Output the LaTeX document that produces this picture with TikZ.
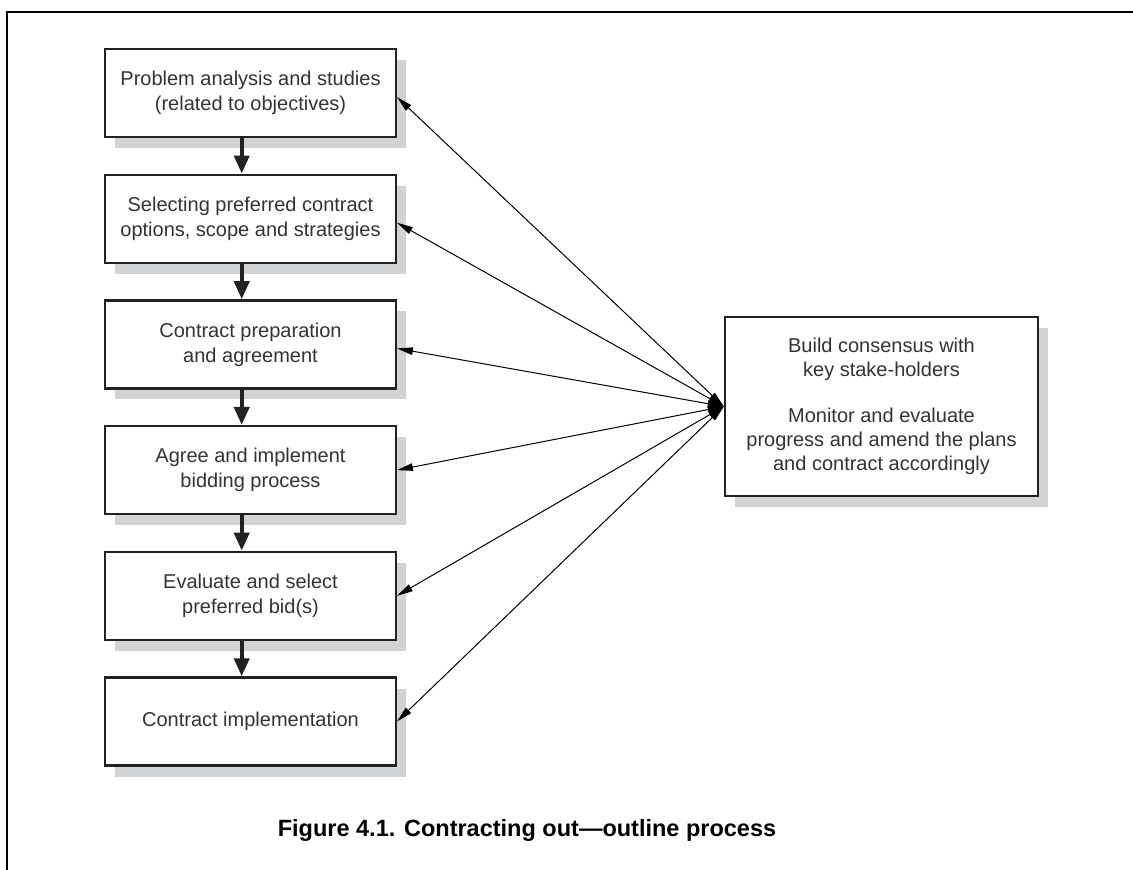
\documentclass[tikz,border=0pt]{standalone}
\usepackage{fontspec}
\setmainfont{Liberation Sans}
\newfontfamily\capfont{Liberation Sans}
\usetikzlibrary{arrows.meta,shadows}
\definecolor{edgecol}{HTML}{222222}
\definecolor{txtcol}{HTML}{333333}
\definecolor{shadecol}{HTML}{D2D3D5}
\tikzset{
  stepbox/.style={draw=edgecol, line width=2.4pt, fill=white, text=txtcol,
    minimum width=290.5pt, minimum height=88pt, inner sep=0pt, align=center,
    font=\fontsize{20pt}{25pt}\selectfont,
    general shadow={fill=shadecol, shadow xshift=10pt, shadow yshift=-11pt}},
  sidebox/.style={stepbox, minimum width=313pt, minimum height=179pt,
    font=\fontsize{20pt}{24pt}\selectfont},
  flowarrow/.style={draw=edgecol, line width=4pt, -{Triangle[length=18pt,width=15pt]}},
  linkarrow/.style={draw=black, line width=1pt,
    {Triangle[length=16pt,width=7.5pt]}-{Triangle[length=16pt,width=7.5pt]}},
}
\begin{document}
\begin{tikzpicture}[x=1pt,y=-1pt]
\useasboundingbox (0,0) rectangle (1133,870);
\draw[line width=2.2pt, black] (7,870) -- (7,12) -- (1133,12);

\node[stepbox] (b1) at (250.5,93) {Problem analysis and studies\\(related to objectives)};
\node[stepbox] (b2) at (250.5,218.7) {Selecting preferred contract\\options, scope and strategies};
\node[stepbox] (b3) at (250.5,344.4) {Contract preparation\\and agreement};
\node[stepbox] (b4) at (250.5,470.1) {Agree and implement\\bidding process};
\node[stepbox] (b5) at (250.5,595.8) {Evaluate and select\\preferred bid(s)};
\node[stepbox] (b6) at (250.5,721.5) {Contract implementation};

\node[sidebox] (r) at (881.5,406.5) {Build consensus with\\key stake-holders\\[22pt]Monitor and evaluate\\progress and amend the plans\\and contract accordingly};

\draw[flowarrow] ([xshift=-8.8pt]b1.south) -- ([xshift=-8.8pt]b2.north);
\draw[flowarrow] ([xshift=-8.8pt]b2.south) -- ([xshift=-8.8pt]b3.north);
\draw[flowarrow] ([xshift=-8.8pt]b3.south) -- ([xshift=-8.8pt]b4.north);
\draw[flowarrow] ([xshift=-8.8pt]b4.south) -- ([xshift=-8.8pt]b5.north);
\draw[flowarrow] ([xshift=-8.8pt]b5.south) -- ([xshift=-8.8pt]b6.north);

\draw[linkarrow] ([yshift=-4pt]b1.east) -- (r.west);
\draw[linkarrow] ([yshift=-4pt]b2.east) -- (r.west);
\draw[linkarrow] ([yshift=-4pt]b3.east) -- (r.west);
\draw[linkarrow] (b4.east) -- (r.west);
\draw[linkarrow] (b5.east) -- (r.west);
\draw[linkarrow] (b6.east) -- (r.west);

\node[anchor=base, font=\capfont\bfseries\fontsize{23.5pt}{28pt}\selectfont, inner sep=0pt] (cap) at (527,836) {Figure 4.1. Contracting out—outline process};
\end{tikzpicture}
\end{document}
